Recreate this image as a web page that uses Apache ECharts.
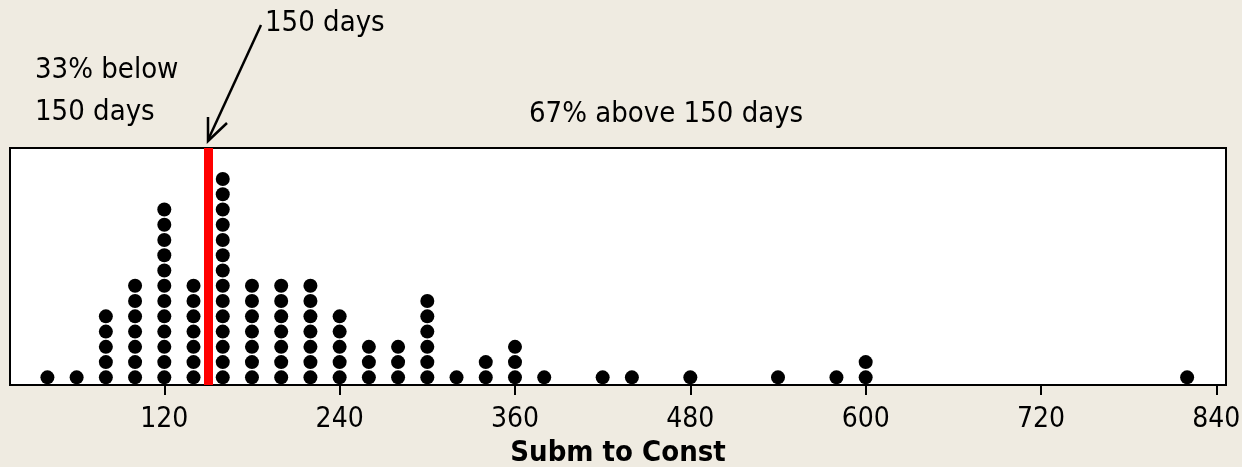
<!DOCTYPE html>
<html>
<head>
<meta charset="utf-8">
<script src="https://cdn.jsdelivr.net/npm/echarts@6/dist/echarts.min.js"></script>
<style>
html,body{margin:0;padding:0;background:#EFEBE1;}
#c{width:1242px;height:467px;}
</style>
</head>
<body>
<div id="c"></div>
<script>
// Dot plot data: value (days) and how many observations stack at that value
const dotValues = [40, 60, 80, 100, 120, 140, 160, 180, 200, 220, 240, 260, 280, 300, 320, 340, 360, 380, 420, 440, 480, 540, 580, 600, 820];
const dotCounts = [1, 1, 5, 7, 12, 7, 14, 7, 7, 7, 5, 3, 3, 6, 1, 2, 3, 1, 1, 1, 1, 1, 1, 2, 1];
const tickValues = [120, 240, 360, 480, 600, 720, 840];
const cutoff = 150;
const axisTitle = 'Subm to Const';
const labelCutoff = '150 days';
const labelBelow = ['33% below', '150 days'];
const labelAbove = '67% above 150 days';

const points = [];
dotValues.forEach((v, i) => {
  for (let k = 1; k <= dotCounts[i]; k++) points.push([v, k - 0.5]);
});

const FONT = '"DejaVu Sans Condensed", "DejaVu Sans", sans-serif';
const chart = echarts.init(document.getElementById('c'), null, {renderer: 'canvas'});
chart.setOption({
  backgroundColor: '#EFEBE1',
  animation: false,
  grid: {left: 10, right: 16, top: 148, bottom: 82, containLabel: false, outerBoundsMode: 'none',
         show: true, backgroundColor: '#ffffff', borderColor: '#000000', borderWidth: 2},
  xAxis: {
    type: 'value', min: 14.4, max: 846.6,
    name: axisTitle, nameLocation: 'middle', nameGap: 54,
    nameTextStyle: {fontFamily: FONT, fontWeight: 'bold', fontSize: 29, color: '#000'},
    axisLine: {show: true, onZero: false, lineStyle: {color: '#000', width: 2}},
    axisTick: {show: true, length: 10, lineStyle: {color: '#000', width: 2}, customValues: tickValues},
    axisLabel: {fontFamily: FONT, fontSize: 28, color: '#000', margin: 21, customValues: tickValues},
    splitLine: {show: false}
  },
  yAxis: {type: 'value', min: 0, max: 15.53, show: false, splitLine: {show: false}},
  series: [{
    type: 'scatter', data: points, symbol: 'circle', symbolSize: 14,
    itemStyle: {color: '#000', opacity: 1}, z: 3,
    markLine: {
      silent: true, symbol: 'none', label: {show: false},
      lineStyle: {color: '#ff0000', width: 9, type: 'solid', opacity: 1},
      data: [{xAxis: cutoff}], z: 2
    }
  }],
  graphic: [
    {type: 'text', left: 265, top: 9, style: {text: labelCutoff, fontFamily: FONT, fontSize: 29, fill: '#000'}},
    {type: 'text', left: 35, top: 56, style: {text: labelBelow[0], fontFamily: FONT, fontSize: 29, fill: '#000'}},
    {type: 'text', left: 35, top: 98, style: {text: labelBelow[1], fontFamily: FONT, fontSize: 29, fill: '#000'}},
    {type: 'text', left: 529, top: 100, style: {text: labelAbove, fontFamily: FONT, fontSize: 29, fill: '#000'}},
    {type: 'line', shape: {x1: 261, y1: 25, x2: 208, y2: 140}, style: {stroke: '#000', lineWidth: 2.5}},
    {type: 'polyline', shape: {points: [[208, 117], [208, 141], [227, 123]]}, style: {stroke: '#000', lineWidth: 2.5, fill: null}}
  ]
});
</script>
</body>
</html>
